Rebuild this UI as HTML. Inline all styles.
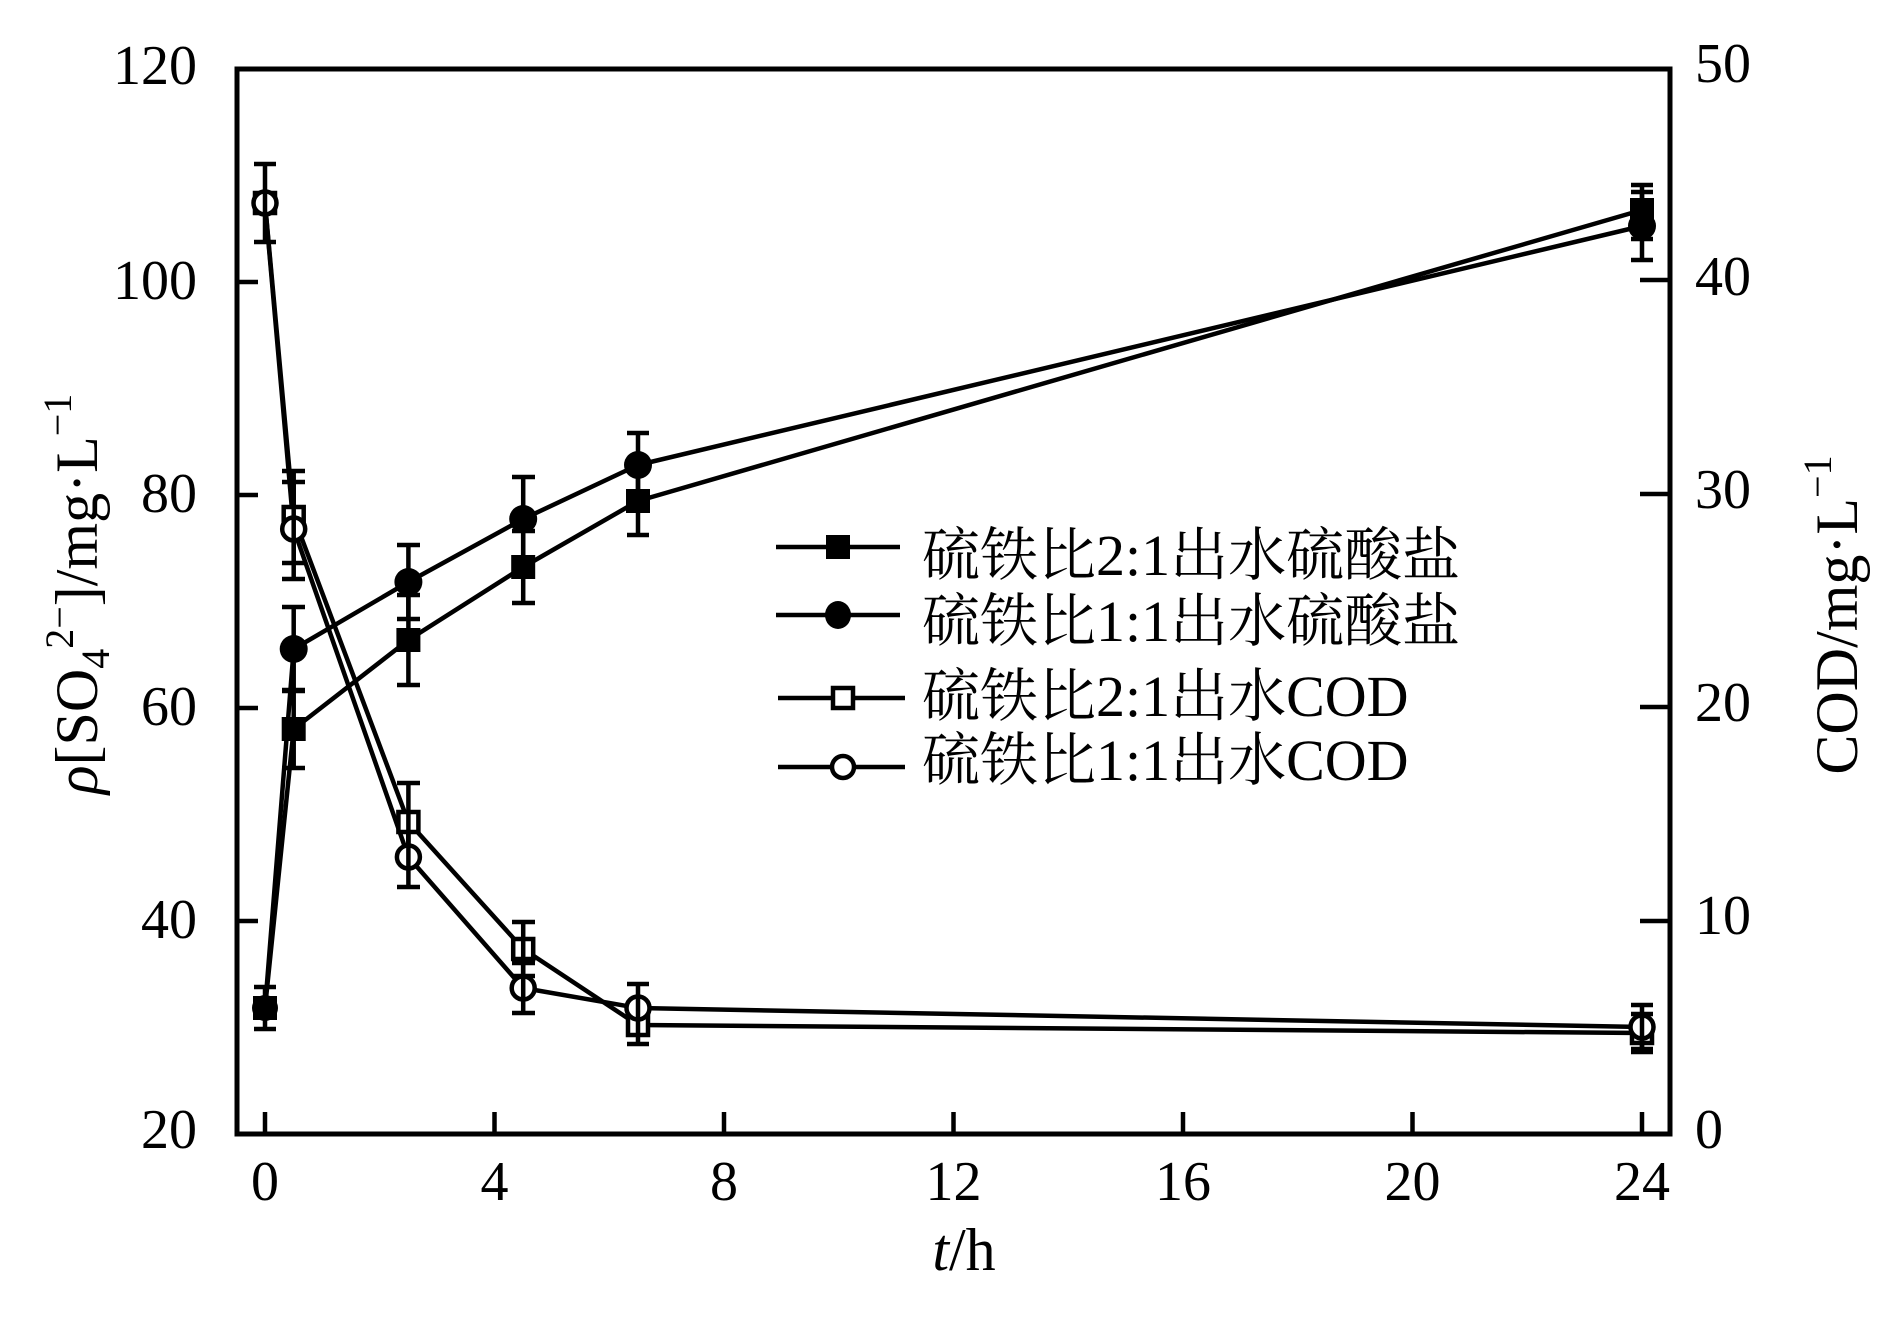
<!DOCTYPE html>
<html>
<head>
<meta charset="utf-8">
<style>
html,body{margin:0;padding:0;background:#fff;}
svg{display:block;}
text{font-family:"Liberation Serif","Noto Serif CJK SC",serif;fill:#000;}
</style>
</head>
<body>
<svg width="1890" height="1323" viewBox="0 0 1890 1323" xmlns="http://www.w3.org/2000/svg">
<rect x="0" y="0" width="1890" height="1323" fill="#fff"/>

<!-- frame -->
<rect x="237" y="69" width="1433" height="1065" fill="none" stroke="#000" stroke-width="5"/>

<g stroke="#000" stroke-width="4.5">
<line x1="237" y1="282" x2="258" y2="282"/>
<line x1="237" y1="495" x2="258" y2="495"/>
<line x1="237" y1="708" x2="258" y2="708"/>
<line x1="237" y1="921" x2="258" y2="921"/>
<line x1="1640" y1="280" x2="1670" y2="280"/>
<line x1="1640" y1="494" x2="1670" y2="494"/>
<line x1="1640" y1="707" x2="1670" y2="707"/>
<line x1="1640" y1="921" x2="1670" y2="921"/>
<line x1="265" y1="1112" x2="265" y2="1134"/>
<line x1="494.5" y1="1112" x2="494.5" y2="1134"/>
<line x1="724" y1="1112" x2="724" y2="1134"/>
<line x1="953.5" y1="1112" x2="953.5" y2="1134"/>
<line x1="1183" y1="1112" x2="1183" y2="1134"/>
<line x1="1412.5" y1="1112" x2="1412.5" y2="1134"/>
<line x1="1642" y1="1112" x2="1642" y2="1134"/>
</g>

<g font-size="56" text-anchor="end">
<text x="197" y="84">120</text>
<text x="197" y="299">100</text>
<text x="197" y="512">80</text>
<text x="197" y="725">60</text>
<text x="197" y="938">40</text>
<text x="197" y="1148">20</text>
</g>
<g font-size="56" text-anchor="start">
<text x="1695" y="82">50</text>
<text x="1695" y="295">40</text>
<text x="1695" y="508">30</text>
<text x="1695" y="721">20</text>
<text x="1695" y="934">10</text>
<text x="1695" y="1148">0</text>
</g>
<g font-size="56" text-anchor="middle">
<text x="265" y="1200">0</text>
<text x="494.5" y="1200">4</text>
<text x="724" y="1200">8</text>
<text x="953.5" y="1200">12</text>
<text x="1183" y="1200">16</text>
<text x="1412.5" y="1200">20</text>
<text x="1642" y="1200">24</text>
</g>

<text x="964" y="1270" font-size="60" text-anchor="middle"><tspan font-style="italic">t</tspan>/h</text>

<text transform="translate(97,594) rotate(-90)" font-size="60" text-anchor="middle"><tspan font-style="italic">ρ</tspan>[SO<tspan font-size="40" dy="12">4</tspan><tspan font-size="40" dy="-36">2−</tspan><tspan dy="24">]/mg·L</tspan><tspan font-size="40" dy="-26">−1</tspan></text>

<text transform="translate(1857,615) rotate(-90)" font-size="60" text-anchor="middle">COD/mg·L<tspan font-size="40" dy="-26">−1</tspan></text>

<g fill="none" stroke="#000" stroke-width="4.5" stroke-linejoin="round">
<polyline points="265,1008 293.7,729 408.4,640 523.2,567 638,501 1642,210"/>
<polyline points="265,1008 293.7,649 408.4,582 523.2,519 638,465 1642,226"/>
<polyline points="265,203 293.7,517 408.4,822 523.2,949 638,1025 1642,1033"/>
<polyline points="265,203 293.7,529 408.4,857 523.2,988 638,1008 1642,1027"/>
</g>

<g stroke="#000" stroke-width="4.5">
<line x1="265" y1="987" x2="265" y2="1029"/><line x1="254" y1="987" x2="276" y2="987"/><line x1="254" y1="1029" x2="276" y2="1029"/>
<line x1="293.7" y1="690" x2="293.7" y2="768"/><line x1="282" y1="690" x2="305" y2="690"/><line x1="282" y1="768" x2="305" y2="768"/>
<line x1="408.4" y1="595" x2="408.4" y2="685"/><line x1="397" y1="595" x2="420" y2="595"/><line x1="397" y1="685" x2="420" y2="685"/>
<line x1="523.2" y1="531" x2="523.2" y2="603"/><line x1="512" y1="531" x2="535" y2="531"/><line x1="512" y1="603" x2="535" y2="603"/>
<line x1="638" y1="467" x2="638" y2="535"/><line x1="627" y1="467" x2="649" y2="467"/><line x1="627" y1="535" x2="649" y2="535"/>
<line x1="1642" y1="185" x2="1642" y2="239"/><line x1="1631" y1="185" x2="1653" y2="185"/><line x1="1631" y1="239" x2="1653" y2="239"/>
<line x1="293.7" y1="607" x2="293.7" y2="691"/><line x1="282" y1="607" x2="305" y2="607"/><line x1="282" y1="691" x2="305" y2="691"/>
<line x1="408.4" y1="545" x2="408.4" y2="619"/><line x1="397" y1="545" x2="420" y2="545"/><line x1="397" y1="619" x2="420" y2="619"/>
<line x1="523.2" y1="477" x2="523.2" y2="561"/><line x1="512" y1="477" x2="535" y2="477"/><line x1="512" y1="561" x2="535" y2="561"/>
<line x1="638" y1="433" x2="638" y2="497"/><line x1="627" y1="433" x2="649" y2="433"/><line x1="627" y1="497" x2="649" y2="497"/>
<line x1="1642" y1="192" x2="1642" y2="260"/><line x1="1631" y1="192" x2="1653" y2="192"/><line x1="1631" y1="260" x2="1653" y2="260"/>
<line x1="265" y1="164" x2="265" y2="242"/><line x1="254" y1="164" x2="276" y2="164"/><line x1="254" y1="242" x2="276" y2="242"/>
<line x1="293.7" y1="471" x2="293.7" y2="563"/><line x1="282" y1="471" x2="305" y2="471"/><line x1="282" y1="563" x2="305" y2="563"/>
<line x1="408.4" y1="783" x2="408.4" y2="861"/><line x1="397" y1="783" x2="420" y2="783"/><line x1="397" y1="861" x2="420" y2="861"/>
<line x1="523.2" y1="922" x2="523.2" y2="976"/><line x1="512" y1="922" x2="535" y2="922"/><line x1="512" y1="976" x2="535" y2="976"/>
<line x1="638" y1="1006" x2="638" y2="1044"/><line x1="627" y1="1006" x2="649" y2="1006"/><line x1="627" y1="1044" x2="649" y2="1044"/>
<line x1="1642" y1="1014" x2="1642" y2="1052"/><line x1="1631" y1="1014" x2="1653" y2="1014"/><line x1="1631" y1="1052" x2="1653" y2="1052"/>
<line x1="293.7" y1="482" x2="293.7" y2="579"/><line x1="282" y1="482" x2="305" y2="482"/><line x1="282" y1="579" x2="305" y2="579"/>
<line x1="408.4" y1="827" x2="408.4" y2="887"/><line x1="397" y1="827" x2="420" y2="827"/><line x1="397" y1="887" x2="420" y2="887"/>
<line x1="523.2" y1="963" x2="523.2" y2="1013"/><line x1="512" y1="963" x2="535" y2="963"/><line x1="512" y1="1013" x2="535" y2="1013"/>
<line x1="638" y1="984" x2="638" y2="1032"/><line x1="627" y1="984" x2="649" y2="984"/><line x1="627" y1="1032" x2="649" y2="1032"/>
<line x1="1642" y1="1005" x2="1642" y2="1049"/><line x1="1631" y1="1005" x2="1653" y2="1005"/><line x1="1631" y1="1049" x2="1653" y2="1049"/>
</g>

<g fill="#fff" stroke="#000" stroke-width="4.5">
<rect x="255" y="193" width="20" height="20"/>
<rect x="283.7" y="507" width="20" height="20"/>
<rect x="398.4" y="812" width="20" height="20"/>
<rect x="513.2" y="939" width="20" height="20"/>
<rect x="628" y="1015" width="20" height="20"/>
<rect x="1632" y="1023" width="20" height="20"/>
</g>
<g fill="#fff" stroke="#000" stroke-width="4.5">
<circle cx="265" cy="203" r="11.5"/>
<circle cx="293.7" cy="529" r="11.5"/>
<circle cx="408.4" cy="857" r="11.5"/>
<circle cx="523.2" cy="988" r="11.5"/>
<circle cx="638" cy="1008" r="11.5"/>
<circle cx="1642" cy="1027" r="11.5"/>
</g>
<g stroke="#000" stroke-width="4.5">
<line x1="265" y1="190" x2="265" y2="216"/>
<line x1="293.7" y1="505" x2="293.7" y2="541"/>
<line x1="408.4" y1="810" x2="408.4" y2="869"/>
<line x1="523.2" y1="937" x2="523.2" y2="1000"/>
<line x1="638" y1="996" x2="638" y2="1037"/>
<line x1="1642" y1="1015" x2="1642" y2="1045"/>
</g>
<g fill="#000">
<circle cx="265" cy="1008" r="13"/>
<circle cx="293.7" cy="649" r="14"/>
<circle cx="408.4" cy="582" r="14"/>
<circle cx="523.2" cy="519" r="14"/>
<circle cx="638" cy="465" r="14"/>
<circle cx="1642" cy="226" r="14"/>
</g>
<g fill="#000">
<rect x="253" y="996" width="24" height="24"/>
<rect x="281.7" y="717" width="24" height="24"/>
<rect x="396.4" y="628" width="24" height="24"/>
<rect x="511.2" y="555" width="24" height="24"/>
<rect x="626" y="489" width="24" height="24"/>
<rect x="1630" y="198" width="24" height="24"/>
</g>

<g stroke="#000" stroke-width="4.5">
<line x1="776" y1="547" x2="900" y2="547"/>
<line x1="776" y1="615" x2="900" y2="615"/>
<line x1="778" y1="698" x2="905" y2="698"/>
<line x1="778" y1="767" x2="905" y2="767"/>
</g>
<rect x="826" y="535" width="24" height="24" fill="#000"/>
<ellipse cx="838" cy="615" rx="13" ry="14" fill="#000"/>
<rect x="833" y="688" width="20" height="20" fill="#fff" stroke="#000" stroke-width="4.5"/>
<circle cx="843" cy="767" r="11" fill="#fff" stroke="#000" stroke-width="4.5"/>

<g font-size="58">
<text x="922" y="575">硫铁比2:1出水硫酸盐</text>
<text x="922" y="641">硫铁比1:1出水硫酸盐</text>
<text x="922" y="716">硫铁比2:1出水COD</text>
<text x="922" y="780">硫铁比1:1出水COD</text>
</g>
</svg>
</body>
</html>
